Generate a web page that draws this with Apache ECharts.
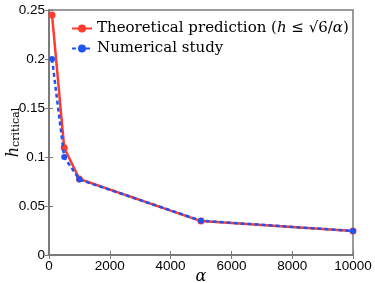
<!DOCTYPE html>
<html><head><meta charset="utf-8">
<script src="https://cdn.jsdelivr.net/npm/echarts@6/dist/echarts.min.js"></script>
<style>html,body{margin:0;padding:0;background:#fff}#c{width:375px;height:283px}</style>
</head><body><div id="c"></div>
<script>
const alphaTheory = [100, 500, 1000, 5000, 10000];
const hTheory = [0.245, 0.1095, 0.0775, 0.0346, 0.0245];
const alphaNum = [100, 500, 1000, 5000, 10000];
const hNum = [0.2, 0.1, 0.077, 0.035, 0.0245];
const xTicks = [0, 2000, 4000, 6000, 8000, 10000];
const yTicks = [0, 0.05, 0.1, 0.15, 0.2, 0.25];

const chart = echarts.init(document.getElementById('c'));
const gray = '#7a7a7a';
const serif = '"DejaVu Serif", "Liberation Serif", serif';
const sans = '"Liberation Sans", Arial, sans-serif';
const tickLbl = {color: '#000', fontFamily: sans, fontSize: 13.5};
chart.setOption({
  animation: false,
  grid: {left: 49, right: 22, top: 10, bottom: 28, show: true, borderColor: gray, borderWidth: 1.5,
         containLabel: false, outerBoundsMode: 'none'},
  legend: {
    left: 66, top: 16, orient: 'vertical', itemGap: 5, itemWidth: 20, itemHeight: 10,
    textStyle: {fontFamily: serif, fontSize: 15, color: '#000',
      rich: {i: {fontFamily: serif, fontStyle: 'italic', fontSize: 15}, r: {fontFamily: serif, fontSize: 15}}},
    formatter: function(n){
      if (n === 'Theoretical prediction') return '{r|Theoretical prediction (}{i|h}{r| ≤ √6/}{i|α}{r|)}';
      return '{r|Numerical study}';
    },
    data: ['Theoretical prediction', 'Numerical study']
  },
  xAxis: [{
    type: 'value', min: 0, max: 10000, interval: 2000,
    axisLine: {show: true, lineStyle: {color: gray, width: 1.5}},
    axisTick: {inside: true, length: 4, lineStyle: {color: gray}},
    axisLabel: Object.assign({margin: 4, formatter: v => xTicks.includes(v) ? String(v) : ''}, tickLbl),
    splitLine: {show: false},
    name: 'α', nameLocation: 'middle', nameGap: 14, nameMoveOverlap: false,
    nameTextStyle: {fontFamily: serif, fontStyle: 'italic', fontSize: 16, color: '#000'}
  }, {
    type: 'value', position: 'top', min: 0, max: 10000, interval: 2000,
    axisLine: {show: true, lineStyle: {color: gray, width: 1.5}},
    axisTick: {inside: true, length: 4, lineStyle: {color: gray}},
    axisLabel: {show: false}, splitLine: {show: false}
  }],
  yAxis: [{
    type: 'value', min: 0, max: 0.25, interval: 0.05,
    axisLine: {show: true, lineStyle: {color: gray, width: 1.5}},
    axisTick: {inside: true, length: 4, lineStyle: {color: gray}},
    axisLabel: Object.assign({margin: 4, formatter: v => { const t = yTicks.find(y => Math.abs(y - v) < 1e-9); return t === undefined ? '' : String(t); }}, tickLbl),
    splitLine: {show: false},
    name: '{h|h}{s|critical}', nameLocation: 'middle', nameGap: 27, nameRotate: 90, nameMoveOverlap: false,
    nameTextStyle: {rich: {h: {fontFamily: serif, fontStyle: 'italic', fontSize: 16, color: '#000'},
      s: {fontFamily: serif, fontSize: 11, color: '#000', verticalAlign: 'bottom', padding: [6,0,0,0]}}}
  }, {
    type: 'value', position: 'right', min: 0, max: 0.25, interval: 0.05,
    axisLine: {show: true, lineStyle: {color: gray, width: 1.5}},
    axisTick: {inside: true, length: 4, lineStyle: {color: gray}},
    axisLabel: {show: false}, splitLine: {show: false}
  }],
  series: [{
    name: 'Theoretical prediction', type: 'line',
    data: alphaTheory.map((a, i) => [a, hTheory[i]]),
    symbol: 'circle', symbolSize: 7,
    lineStyle: {color: '#ff3a2e', width: 2.5}, itemStyle: {color: '#ff3a2e'}, z: 2
  }, {
    name: 'Numerical study', type: 'line',
    data: alphaNum.map((a, i) => [a, hNum[i]]),
    symbol: 'circle', symbolSize: 6,
    lineStyle: {color: '#1d55f5', width: 2.5, type: [4, 3]}, itemStyle: {color: '#1d55f5'}, z: 3
  }]
});
</script></body></html>
